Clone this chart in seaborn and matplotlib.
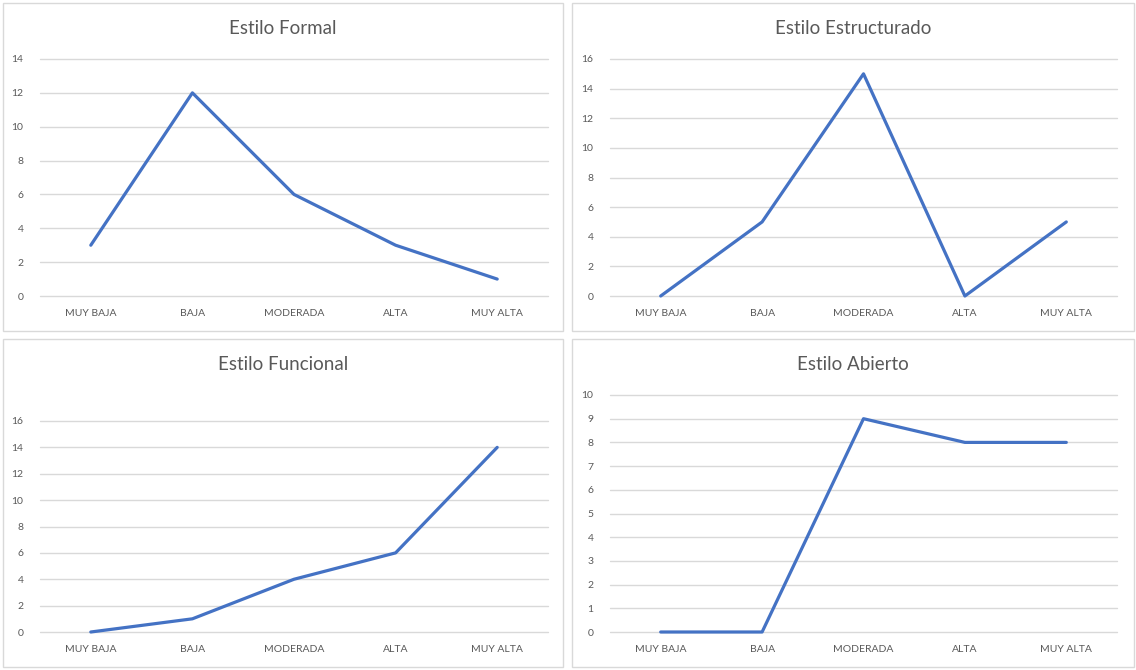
import matplotlib
matplotlib.use("Agg")
import matplotlib.pyplot as plt
import seaborn as sns
import pandas as pd
from matplotlib.patches import Rectangle

# Data
categories = ["MUY BAJA", "BAJA", "MODERADA", "ALTA", "MUY ALTA"]
titles = ["Estilo Formal", "Estilo Estructurado", "Estilo Funcional", "Estilo Abierto"]
formal = [3, 12, 6, 3, 1]
estructurado = [0, 5, 15, 0, 5]
funcional = [0, 1, 4, 6, 14]
abierto = [0, 0, 9, 8, 8]
series = [formal, estructurado, funcional, abierto]
y_max = [14, 16, 16, 10]
y_step = [2, 2, 2, 1]

sns.set_theme(style="white")
plt.rcParams["font.family"] = ["Lato", "DejaVu Sans"]

W, H = 1136, 670
fig = plt.figure(figsize=(W / 100, H / 100), dpi=100)
fig.patch.set_facecolor("white")

# panel boxes (x0, y0, x1, y1) in pixels, top-left origin
panels = [(3, 3, 563, 331), (572, 3, 1134, 331), (3, 339, 563, 667), (572, 339, 1134, 667)]
# plot areas
areas = [(40, 59, 548, 296), (610, 59, 1117, 296), (40, 421, 548, 632), (610, 395, 1117, 632)]

grid_col = "#d9d9d9"
text_col = "#595959"
line_col = "#4472C4"

for i in range(4):
    px0, py0, px1, py1 = panels[i]
    fig.patches.append(Rectangle((px0 / W, 1 - py1 / H), (px1 - px0) / W, (py1 - py0) / H,
                                 transform=fig.transFigure, fill=False,
                                 edgecolor=grid_col, linewidth=1))
    fig.text((px0 + px1) / 2 / W, 1 - (py0 + 26) / H, titles[i], ha="center", va="center",
             fontsize=13.5, color=text_col)

    ax0, ay0, ax1, ay1 = areas[i]
    ax = fig.add_axes([ax0 / W, 1 - ay1 / H, (ax1 - ax0) / W, (ay1 - ay0) / H])
    df = pd.DataFrame({"cat": categories, "val": series[i]})
    sns.lineplot(data=df, x="cat", y="val", ax=ax, color=line_col, linewidth=2.3,
                 sort=False, zorder=3)
    ax.set_xlim(-0.5, 4.5)
    ax.set_ylim(0, y_max[i])
    ax.set_yticks(range(0, y_max[i] + 1, y_step[i]))
    ax.grid(axis="y", color=grid_col, linewidth=1)
    for gl in ax.get_ygridlines():
        gl.set_clip_on(False)
    for ln in ax.get_lines():
        ln.set_clip_on(False)
    ax.set_axisbelow(True)
    for s in ax.spines.values():
        s.set_visible(False)
    ax.set_xlabel("")
    ax.set_ylabel("")
    ax.tick_params(axis="both", length=0, labelsize=7.5, labelcolor=text_col)
    ax.tick_params(axis="y", pad=12)
    ax.tick_params(axis="x", pad=9)
    ax.patch.set_alpha(0)

fig.savefig("out.png", dpi=100, facecolor="white")
